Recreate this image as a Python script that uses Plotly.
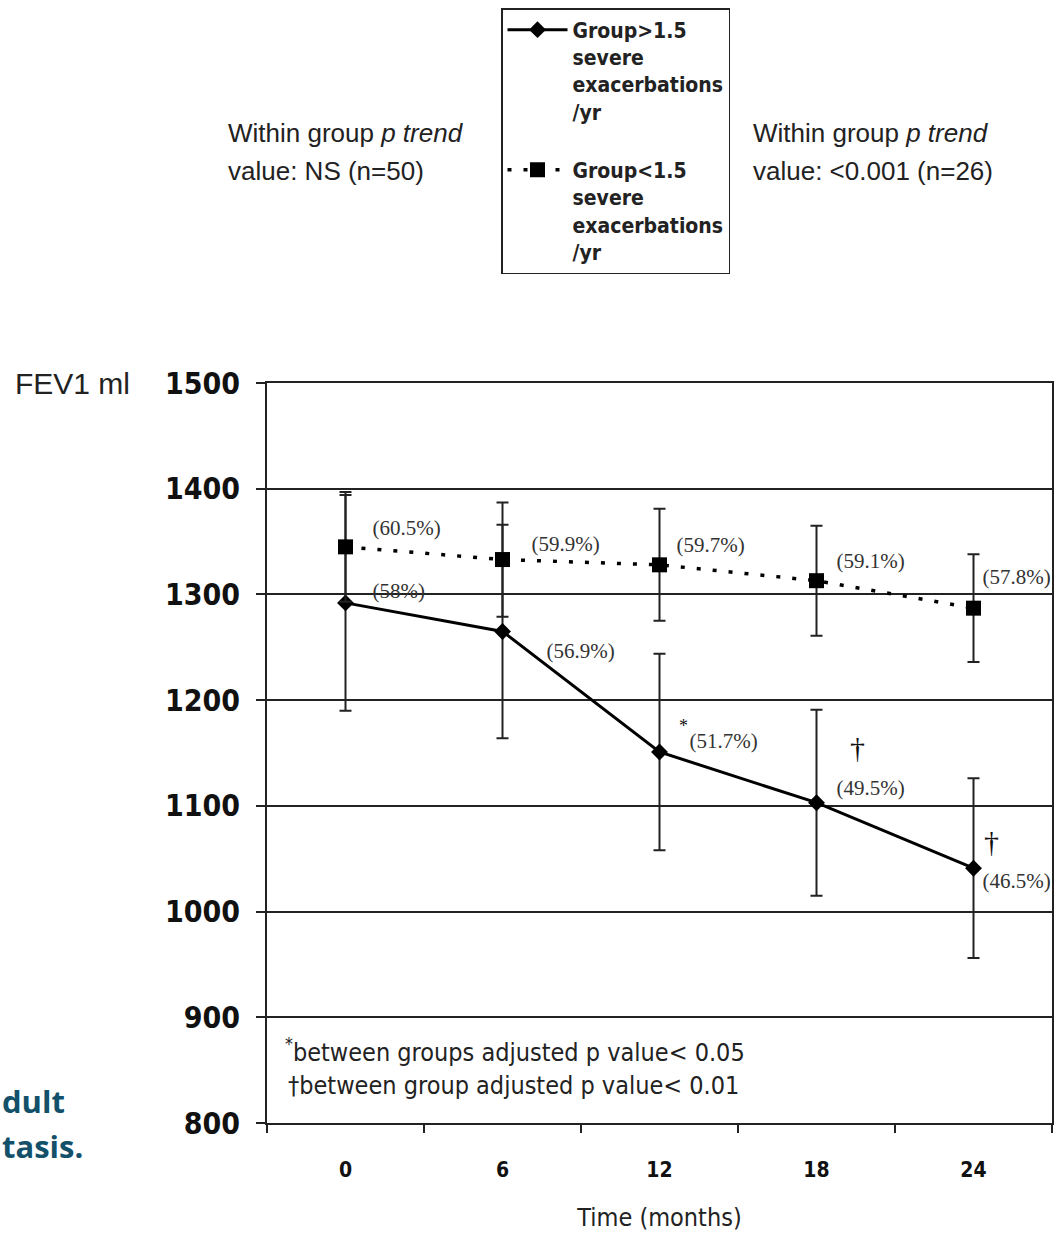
import plotly.graph_objects as go

# ---- data -------------------------------------------------------------
months = [0, 6, 12, 18, 24]
tick_text = ["0", "6", "12", "18", "24"]

# FEV1 (ml) and spread for patients with > 1.5 severe exacerbations / yr
high_fev1 = [1292, 1265, 1151, 1103, 1041]
high_err = [102, 101, 93, 88, 85]
high_pct = ["(58%)", "(56.9%)", "(51.7%)", "(49.5%)", "(46.5%)"]
high_sig = ["", "", "*", "†", "†"]

# FEV1 (ml) and spread for patients with < 1.5 severe exacerbations / yr
low_fev1 = [1345, 1333, 1328, 1313, 1287]
low_err = [52, 54, 53, 52, 51]
low_pct = ["(60.5%)", "(59.9%)", "(59.7%)", "(59.1%)", "(57.8%)"]

y_ticks = [800, 900, 1000, 1100, 1200, 1300, 1400, 1500]

# ---- layout geometry ----------------------------------------------------
W, H = 1063, 1233
ML, MR, MT, MB = 267, 11, 383, 110
PW, PH = W - ML - MR, H - MT - MB
X_RANGE = [-3, 27]
Y_RANGE = [800, 1500]
PX_X = PW / (X_RANGE[1] - X_RANGE[0])   # px per month
PX_Y = PH / (Y_RANGE[1] - Y_RANGE[0])   # px per ml

NARROW = "DejaVu Sans Condensed, Liberation Sans Narrow, Arial Narrow, Liberation Sans"
SANS = "Liberation Sans, Arial"
SERIF = "Liberation Serif, Times New Roman, serif"

# label offsets in px (right, up) from each point
low_lab_off = [(27, 17), (29, 14), (17, 18), (20, 18), (9, 29)]
high_lab_off = [(27, 10), (44, -21), (30, 9), (20, 13), (9, -15)]
sig_off = [(0, 0), (0, 0), (24, 24), (41, 52), (18, 24)]
sig_size = {"*": 18, "†": 30}


def shifted(xs, ys, offs):
    return ([x + dx / PX_X for x, (dx, dy) in zip(xs, offs)],
            [y + dy / PX_Y for y, (dx, dy) in zip(ys, offs)])


def px_paper(px, py):
    return (px - ML) / PW, (H - MB - py) / PH


fig = go.Figure()

fig.add_trace(go.Scatter(
    x=months, y=high_fev1, mode="lines+markers",
    name="Group&gt;1.5<br>severe<br>exacerbations<br>/yr",
    line=dict(color="black", width=3),
    marker=dict(symbol="diamond", size=13, color="black"),
    error_y=dict(type="data", array=high_err, visible=True,
                 color="#222", thickness=2, width=6),
    legendgroup="high",
))
fig.add_trace(go.Scatter(
    x=months, y=low_fev1, mode="lines+markers",
    name="Group&lt;1.5<br>severe<br>exacerbations<br>/yr",
    line=dict(color="black", width=3.5, dash="4px,12px"),
    marker=dict(symbol="square", size=15, color="black"),
    error_y=dict(type="data", array=low_err, visible=True,
                 color="#222", thickness=2, width=6),
    legendgroup="low",
))

# percentage labels (clipped by the plotting frame)
lx, ly = shifted(months, low_fev1, low_lab_off)
fig.add_trace(go.Scatter(
    x=lx, y=ly, mode="text", text=low_pct, textposition="middle right",
    textfont=dict(family=SERIF, size=21, color="#333"),
    cliponaxis=True, showlegend=False, hoverinfo="skip"))
hx, hy = shifted(months, high_fev1, high_lab_off)
fig.add_trace(go.Scatter(
    x=hx, y=hy, mode="text", text=high_pct, textposition="middle right",
    textfont=dict(family=SERIF, size=21, color="#333"),
    cliponaxis=True, showlegend=False, hoverinfo="skip"))

# significance marks, only where one applies
sig_idx = [i for i, s in enumerate(high_sig) if s]
sx, sy = shifted([months[i] for i in sig_idx], [high_fev1[i] for i in sig_idx],
                 [sig_off[i] for i in sig_idx])
fig.add_trace(go.Scatter(
    x=sx, y=sy, mode="text", text=[high_sig[i] for i in sig_idx],
    textposition="middle center",
    textfont=dict(family=SERIF, size=[sig_size[high_sig[i]] for i in sig_idx], color="#111"),
    cliponaxis=True, showlegend=False, hoverinfo="skip"))

annotations = []


def add_text(px, py, text, size, family=SANS, anchor="left", color="#222", weight="normal"):
    xp, yp = px_paper(px, py)
    annotations.append(dict(
        x=xp, y=yp, xref="paper", yref="paper", text=text, showarrow=False,
        xanchor=anchor, yanchor="middle", align="left",
        font=dict(family=family, size=size, color=color, weight=weight)))


# trend notes either side of the legend
add_text(226, 133, "Within group <i>p trend</i>", 26)
add_text(226, 171, "value: NS (n=50)", 26)
add_text(751, 133, "Within group <i>p trend</i>", 26)
add_text(751, 171, "value: &lt;0.001 (n=26)", 26)

# y-axis label
add_text(13, 383, "FEV1 ml", 30)

# footnotes inside the frame
add_text(283, 1050, "<sup>*</sup>between groups adjusted p value&lt; 0.05", 25, family=NARROW)
add_text(286, 1085, "†between group adjusted p value&lt; 0.01", 25, family=NARROW)

# caption fragment at the left edge
add_text(0, 1101, "dult", 31, family="Open Sans", color="#13506a", weight="bold")
add_text(0, 1146, "tasis.", 31, family="Open Sans", color="#13506a", weight="bold")

lgx, lgy = px_paper(501, 8)

fig.update_layout(
    width=W, height=H, autosize=False,
    margin=dict(l=ML, r=MR, t=MT, b=MB, autoexpand=False),
    paper_bgcolor="white", plot_bgcolor="white",
    annotations=annotations,
    showlegend=True,
    legend=dict(
        x=lgx, y=lgy, xanchor="left", yanchor="top",
        bordercolor="#222", borderwidth=1.5, bgcolor="white",
        font=dict(family=NARROW, size=21, color="#222", weight="bold"),
        valign="top", itemwidth=60, tracegroupgap=28,
    ),
    xaxis=dict(
        range=X_RANGE, tickvals=months, ticktext=tick_text, automargin=False,
        ticks="outside", ticklen=27, tickcolor="rgba(0,0,0,0)",
        tickfont=dict(family=NARROW, size=21, color="#111", weight="bold"),
        showgrid=False, zeroline=False,
        showline=True, linecolor="#222", linewidth=2, mirror=True,
        minor=dict(tick0=-3, dtick=6, ticks="outside", ticklen=8,
                   tickwidth=2, tickcolor="#222", showgrid=False),
        title=dict(text="Time (months)", standoff=27,
                   font=dict(family=NARROW, size=25, color="#222")),
    ),
    yaxis=dict(
        range=Y_RANGE, tickvals=y_ticks, automargin=False,
        ticks="outside", ticklen=9, tickwidth=2, tickcolor="#222",
        ticklabelstandoff=10,
        tickfont=dict(family=NARROW, size=30, color="#111", weight="bold"),
        showgrid=True, gridcolor="#222", gridwidth=2, zeroline=False,
        showline=True, linecolor="#222", linewidth=2, mirror=True,
    ),
)

fig.write_html("out.html")
